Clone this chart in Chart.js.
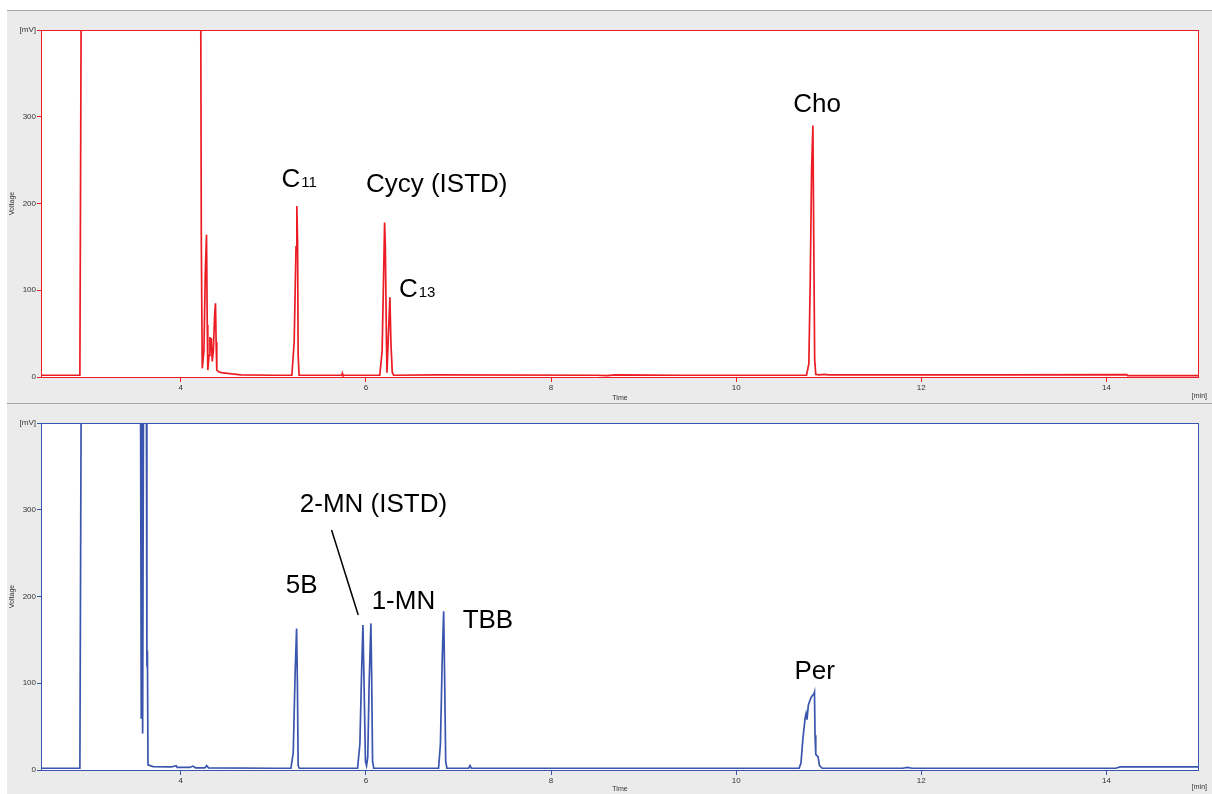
<!DOCTYPE html>
<html><head><meta charset="utf-8">
<script src="https://cdn.jsdelivr.net/npm/chart.js@4.4.0/dist/chart.umd.min.js"></script>
<style>
html,body{margin:0;padding:0;background:#fff;width:1212px;height:794px;overflow:hidden;position:relative;}
#bg{position:absolute;left:7px;top:10px;width:1205px;height:784px;background:#ebebeb;border-top:1px solid #a6a6a6;box-sizing:border-box;}
#sep{position:absolute;left:7px;top:403px;width:1205px;height:1px;background:#a6a6a6;}
canvas{position:absolute;left:0;}
#c1{top:11px;} #c2{top:404px;}
</style></head><body>
<div id="bg"></div><div id="sep"></div>
<canvas id="c1" width="1212" height="392"></canvas>
<canvas id="c2" width="1212" height="390"></canvas>
<script>
// ---- axis ticks ----
const xTickValues = [4, 6, 8, 10, 12, 14];
const yTickValues = [0, 100, 200, 300, 400];

// ---- top trace (red) : retention time [min], voltage [mV] ----
const topTimes = [2.49, 2.91, 2.925, 4.215, 4.222, 4.232, 4.250, 4.265, 4.278, 4.286, 4.292, 4.305, 4.315, 4.322, 4.330, 4.340, 4.352, 4.365, 4.375, 4.382, 4.389, 4.410, 4.440, 4.550, 4.650, 5.000,
  5.200, 5.225, 5.245, 5.254, 5.262, 5.268, 5.278, 5.740, 5.745, 5.750,
  6.150, 6.175, 6.190, 6.202, 6.210, 6.222, 6.228, 6.240, 6.259, 6.270, 6.285, 6.300,
  6.750, 8.500, 8.600, 8.700, 9.400,
  10.760, 10.785, 10.800, 10.815, 10.829, 10.838, 10.848, 10.860, 10.900, 10.950, 11.000,
  12.800, 14.220, 14.230, 15.000];
const topValues = [2, 2, 460, 460, 155, 10, 30, 120, 164, 60, 8, 25, 46, 30, 45, 18, 30, 70, 85, 40, 8, 6, 5, 3.5, 2.5, 2,
  2, 40, 150, 197, 155, 25, 2, 2, 4, 2,
  2, 30, 110, 178, 150, 40, 5, 40, 92, 40, 5, 2,
  2.5, 2, 1.5, 2.5, 2,
  2, 15, 110, 240, 290, 160, 20, 3, 2.5, 3, 2.5,
  2.5, 2.8, 1.5, 1.5];

// ---- bottom trace (blue) ----
const bottomTimes = [2.49, 2.91, 2.925, 3.565, 3.573, 3.580, 3.588, 3.598, 3.628, 3.634, 3.640, 3.646, 3.700, 3.900, 3.950, 3.960, 4.100, 4.130, 4.160, 4.260, 4.280, 4.300, 5.000,
  5.190, 5.215, 5.235, 5.251, 5.260, 5.268, 5.280,
  5.910, 5.935, 5.955, 5.968, 5.980, 5.995, 6.007, 6.020, 6.035, 6.054, 6.062, 6.072, 6.085,
  6.785, 6.805, 6.825, 6.840, 6.850, 6.862, 6.875, 7.110, 7.124, 7.140,
  10.680, 10.700, 10.720, 10.745, 10.755, 10.765, 10.780, 10.810, 10.840, 10.846, 10.852, 10.860, 10.885, 10.900, 10.930,
  11.800, 11.850, 11.900, 14.100, 14.150, 15.000];
const bottomValues = [2, 2, 460, 460, 60, 460, 42, 460, 460, 127, 130, 6, 4, 3.5, 5, 3, 3, 4.5, 2.5, 2.5, 5, 2.5, 2,
  2, 20, 110, 163, 100, 5, 2,
  2, 30, 120, 167, 100, 10, 5, 15, 100, 169, 110, 10, 2,
  2, 30, 130, 183, 110, 10, 2, 2, 5, 2,
  2, 8, 35, 60, 65, 58, 75, 84, 88, 90, 40, 18, 15, 5, 2,
  2, 3, 2, 2, 3.5, 3.5];

// ---- peak labels ----
const topLabels = ['C', 'Cycy (ISTD)', 'C', 'Cho'];
const topLabelSubs = ['11', '', '13', ''];
const topLabelTimes = [5.089, 6.0, 6.357, 10.616];
const topLabelValues = [218.8, 213.4, 91.9, 306];

const bottomLabels = ['2-MN (ISTD)', '5B', '1-MN', 'TBB', 'Per'];
const bottomLabelSubs = ['', '', '', '', ''];
const bottomLabelTimes = [5.286, 5.135, 6.062, 7.045, 10.63];
const bottomLabelValues = [297.8, 203.7, 185.2, 163.3, 104.6];

const leaderTimes = [5.629, 5.917];
const leaderValues = [276.7, 178.7];

const FONT = '"Liberation Sans", Arial, sans-serif';

const panelPlugin = {
  id: 'panel',
  beforeDraw(chart) {
    const {ctx, chartArea: a} = chart;
    ctx.save();
    ctx.fillStyle = '#ffffff';
    ctx.fillRect(a.left, a.top, a.right - a.left, a.bottom - a.top);
    ctx.restore();
  },
  afterDatasetsDraw(chart, args, opts) {
    const {ctx, chartArea: a} = chart;
    ctx.save();
    ctx.strokeStyle = opts.color;
    ctx.lineWidth = 1;
    ctx.strokeRect(a.left + 0.5, a.top + 0.5, a.right - a.left - 1, a.bottom - a.top);
    ctx.restore();
  },
  afterDraw(chart, args, opts) {
    const {ctx, chartArea: a, scales} = chart;
    ctx.save();
    ctx.fillStyle = '#000';
    ctx.textAlign = 'left';
    ctx.textBaseline = 'alphabetic';
    opts.labels.forEach((txt, i) => {
      const x = scales.x.getPixelForValue(opts.times[i]);
      const y = scales.y.getPixelForValue(opts.values[i]);
      ctx.font = '26px ' + FONT;
      ctx.fillText(txt, x, y);
      if (opts.subs[i]) {
        const w = ctx.measureText(txt).width;
        ctx.font = '15px ' + FONT;
        ctx.fillText(opts.subs[i], x + w + 1, y);
      }
    });
    ctx.font = '7px ' + FONT;
    ctx.fillStyle = '#333';
    ctx.textAlign = 'right';
    ctx.textBaseline = 'middle';
    ctx.fillText('[min]', a.right + 8, a.bottom + opts.minOffset);
    ctx.restore();
  }
};

function makeChart(id, times, values, color, lineLabels, subs, lTimes, lValues, axisH, minOffset, extra) {
  const datasets = [{
    data: times.map((t, i) => ({x: t, y: values[i]})),
    borderColor: color, borderWidth: 1.7, pointRadius: 0, tension: 0, fill: false
  }];
  if (extra) datasets.push(extra);
  return new Chart(document.getElementById(id), {
    type: 'line',
    data: {datasets},
    plugins: [panelPlugin],
    options: {
      responsive: false, animation: false, events: [],
      layout: {padding: {top: 19, right: 13, left: 0, bottom: 0}},
      plugins: {
        legend: {display: false}, tooltip: {enabled: false},
        panel: {color, labels: lineLabels, subs, times: lTimes, values: lValues, minOffset}
      },
      scales: {
        x: {
          type: 'linear', min: 2.49, max: 15,
          afterBuildTicks: s => { s.ticks = xTickValues.map(v => ({value: v})); },
          afterFit: s => { s.height = axisH; },
          grid: {drawOnChartArea: false, drawTicks: true, tickLength: 5, color, lineWidth: 1},
          border: {display: false},
          ticks: {font: {size: 8, family: FONT}, color: '#333', padding: 1, maxRotation: 0, autoSkip: false},
          title: {display: true, text: 'Time', font: {size: 7, family: FONT}, color: '#333', padding: {top: 0, bottom: 1}}
        },
        y: {
          type: 'linear', min: 0, max: 400,
          afterBuildTicks: s => { s.ticks = yTickValues.map(v => ({value: v})); },
          afterFit: s => { s.width = 41; },
          grid: {drawOnChartArea: false, drawTicks: true, tickLength: 4, color, lineWidth: 1},
          border: {display: false},
          ticks: {font: {size: 8, family: FONT}, color: '#333', padding: 1,
            callback: v => v === 400 ? '[mV]' : v},
          title: {display: true, text: 'Voltage', font: {size: 7, family: FONT}, color: '#333', padding: {top: 8, bottom: 0}}
        }
      }
    }
  });
}

makeChart('c1', topTimes, topValues, '#ec1c24', topLabels, topLabelSubs, topLabelTimes, topLabelValues, 26, 19, null);
makeChart('c2', bottomTimes, bottomValues, '#3a55ae', bottomLabels, bottomLabelSubs, bottomLabelTimes, bottomLabelValues, 24, 17, {
  data: leaderTimes.map((t, i) => ({x: t, y: leaderValues[i]})),
  borderColor: '#000', borderWidth: 1.5, pointRadius: 0, tension: 0, fill: false
});
</script>
</body></html>
